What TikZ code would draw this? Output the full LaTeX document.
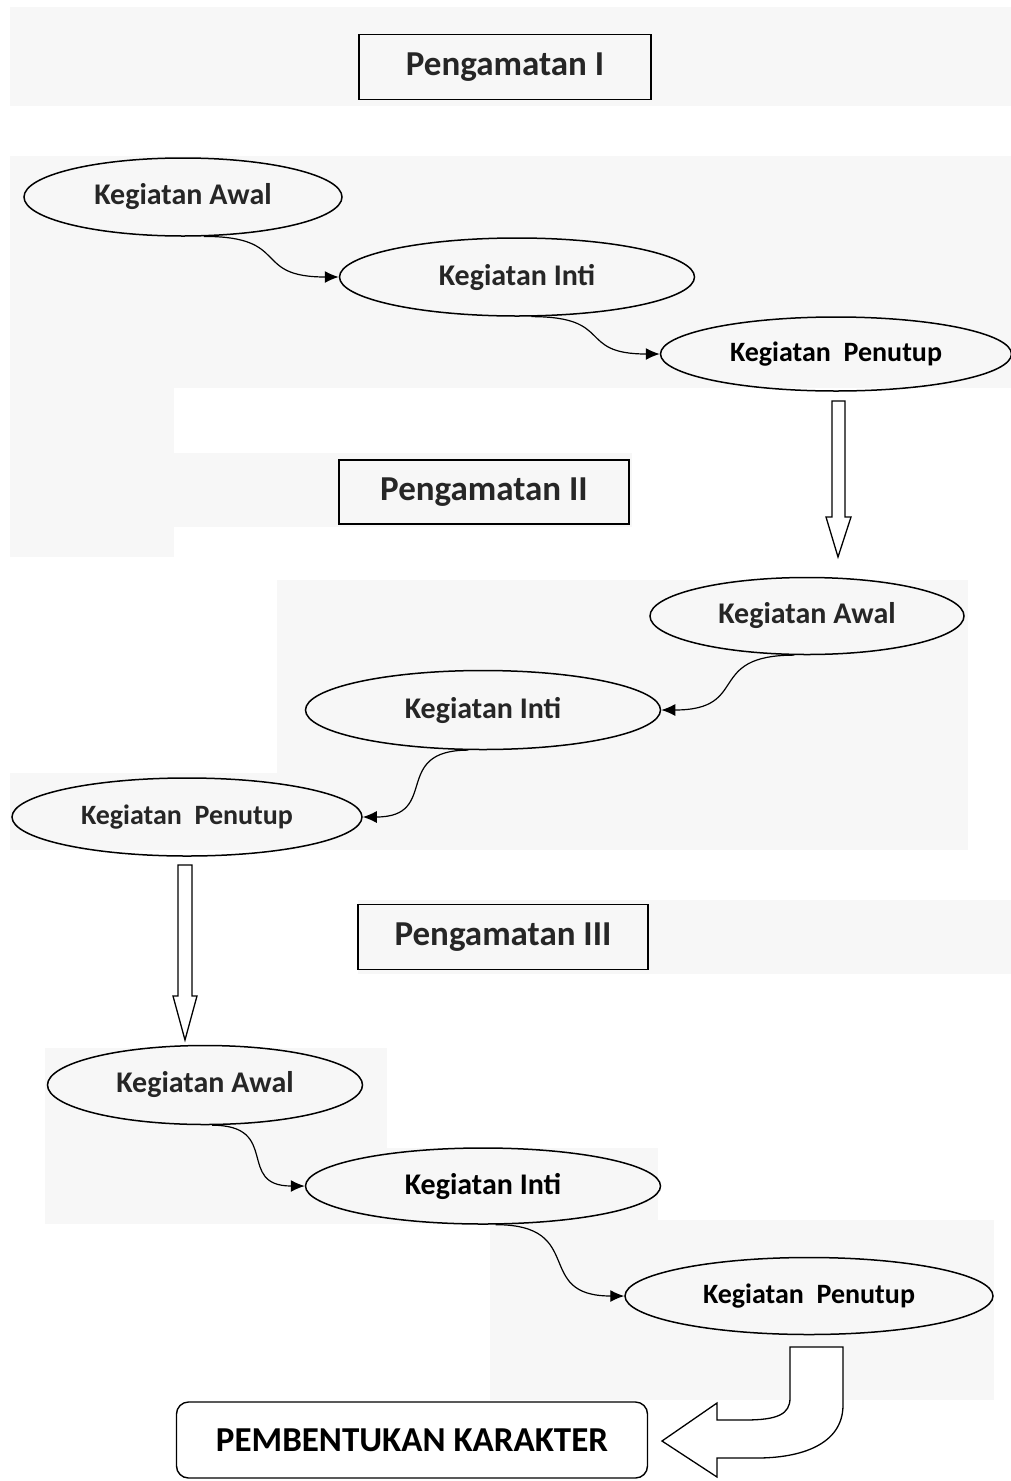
\documentclass[tikz,border=0pt]{standalone}
\usepackage{fontspec}
\setmainfont{Carlito}
\usetikzlibrary{arrows.meta, positioning, shapes.geometric}

\begin{document}
\begin{tikzpicture}[
      x=1pt, y=-1pt, >=Latex,
      judul/.style={draw, line width=1.4pt, inner sep=0pt, minimum width=292pt, minimum height=65pt,
        text=black!85, font=\fontsize{35}{40}\selectfont\bfseries},
      keg/.style={ellipse, draw, line width=1.5pt, inner sep=0pt, minimum width=355pt, minimum height=78pt,
        text=black!85, font=\fontsize{30}{36}\selectfont\bfseries},
      tutup/.style={keg, font=\fontsize{28}{34}\selectfont\bfseries},
      hasil/.style={draw, rounded corners=12pt, line width=1.4pt, inner sep=0pt, minimum width=471pt,
        minimum height=76pt, font=\fontsize{35}{40}\selectfont\bfseries},
      alur/.style={-{Latex[length=14pt,width=12pt]}, line width=1.2pt, looseness=1.6},
      blok/.style={draw, line width=1.3pt, fill=white},
      latar/.style={fill=black!3, draw=none},
    ]
      \useasboundingbox (0,0) rectangle (1011,1481);

      % scanned background panels
      \fill[latar] (10,7) rectangle (1011,106);
      \fill[latar] (10,156) rectangle (1011,388);
      \fill[latar] (10,388) rectangle (174,557);
      \fill[latar] (10,453) rectangle (632,527);
      \fill[latar] (277,580) rectangle (968,850);
      \fill[latar] (10,773) rectangle (277,850);
      \fill[latar] (358,900) rectangle (1011,974);
      \fill[latar] (45,1048) rectangle (387,1224);
      \fill[latar] (387,1148) rectangle (658,1224);
      \fill[latar] (490,1220) rectangle (994,1400);

      % Pengamatan I
      \node[judul] (obs1) at (505,67) {Pengamatan I};
      \node[keg, minimum width=318pt] (awal1) at (183,197) {Kegiatan Awal};
      \node[keg] (inti1) at (517,277) {Kegiatan Inti};
      \node[tutup, minimum width=351pt, minimum height=74pt, text=black] (tutup1) at (836,354) {Kegiatan\ \ Penutup};

      \draw[alur] (awal1.-62) to[out=0, in=180] (inti1.west);
      \draw[alur] (inti1.-70) to[out=0, in=180] (tutup1.west);

      % Pengamatan II
      \node[judul, minimum width=290pt, minimum height=64pt] (obs2) at (484,492) {Pengamatan II};
      \node[keg, minimum width=314pt, minimum height=77pt] (awal2) at (807,616) {Kegiatan Awal};
      \node[keg, minimum height=79pt] (inti2) at (483,710) {Kegiatan Inti};
      \node[tutup, minimum width=350pt] (tutup2) at (187,817) {Kegiatan\ \ Penutup};

      \draw[alur] (awal2.-108) to[out=180, in=0] (inti2.east);
      \draw[alur] (inti2.-110) to[out=180, in=0] (tutup2.east);

      % Pengamatan III
      \node[judul, minimum width=290pt] (obs3) at (503,937) {Pengamatan III};
      \node[keg, minimum width=315pt, minimum height=79pt] (awal3) at (205,1085) {Kegiatan Awal};
      \node[keg, minimum height=76pt, text=black] (inti3) at (483,1186) {Kegiatan Inti};
      \node[tutup, minimum width=368pt, minimum height=77pt, text=black] (tutup3) at (809,1296) {Kegiatan\ \ Penutup};

      \draw[alur] (awal3.-80) to[out=0, in=180] (inti3.west);
      \draw[alur] (inti3.-72) to[out=0, in=180] (tutup3.west);

      \node[hasil] (karakter) at (412,1440) {PEMBENTUKAN KARAKTER};

      % hollow arrows
      \draw[blok] (832,401) -- (845,401) -- (845,517) -- (851,517) -- (838,557)
        -- (826,517) -- (832,517) -- cycle;
      \draw[blok] (178,865) -- (192,865) -- (192,996) -- (197,996) -- (185,1040)
        -- (173,996) -- (178,996) -- cycle;
      \draw[blok] (790,1347) -- (843,1347) -- (843,1405)
        .. controls (843,1445) and (800,1458) .. (757,1458) -- (717,1458) -- (717,1477)
        -- (662,1441) -- (717,1403) -- (717,1420) -- (745,1420)
        .. controls (778,1420) and (790,1414) .. (790,1398) -- cycle;
    \end{tikzpicture}
\end{document}
